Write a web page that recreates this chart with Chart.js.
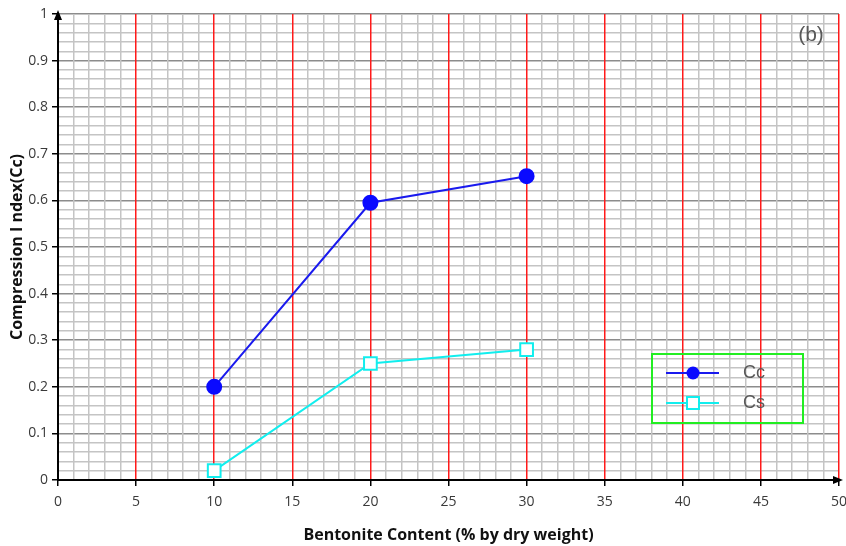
<!DOCTYPE html>
<html>
<head>
<meta charset="utf-8">
<script src="https://cdn.jsdelivr.net/npm/chart.js@4.4.0/dist/chart.umd.min.js"></script>
<style>
  html, body { margin: 0; padding: 0; background: #fff; }
  #wrap { width: 846px; height: 546px; }
</style>
</head>
<body>
<div id="wrap"><canvas id="chart" width="846" height="546"></canvas></div>
<script>
// bentonite content (% by dry weight)
const bentonite = [10, 20, 30];
// compression index
const ccValues = [0.2, 0.595, 0.652];
// swelling index
const csValues = [0.02, 0.25, 0.28];
const seriesNames = ['Cc', 'Cs'];
const panelLabel = '(b)';

const ctx = document.getElementById('chart').getContext('2d');

// draws arrows at the axis ends, the "(b)" label and the boxed legend
const extras = {
    id: 'extras',
    afterDraw(chart) {
        const c = chart.ctx;
        const a = chart.chartArea;
        c.save();
        c.fillStyle = '#000';
        // y arrow
        c.beginPath();
        c.moveTo(a.left, a.top - 4);
        c.lineTo(a.left - 4, a.top + 6);
        c.lineTo(a.left + 4, a.top + 6);
        c.closePath();
        c.fill();
        // x arrow
        c.beginPath();
        c.moveTo(a.right + 4, a.bottom);
        c.lineTo(a.right - 6, a.bottom - 4);
        c.lineTo(a.right - 6, a.bottom + 4);
        c.closePath();
        c.fill();

        // panel label
        c.fillStyle = '#595959';
        c.font = '21px "Liberation Sans", Arial, sans-serif';
        c.textAlign = 'center';
        c.textBaseline = 'middle';
        c.fillText(panelLabel, a.right - 28, a.top + 21);

        // legend box
        const bx = 652, by = 354, bw = 151, bh = 69;
        c.strokeStyle = '#22ee22';
        c.lineWidth = 2;
        c.strokeRect(bx, by, bw, bh);
        chart.data.datasets.forEach(function (ds, i) {
            const y = by + 19 + i * 30;
            c.strokeStyle = ds.borderColor;
            c.lineWidth = 2;
            c.beginPath();
            c.moveTo(bx + 14, y);
            c.lineTo(bx + 67, y);
            c.stroke();
            if (ds.pointStyle === 'rect') {
                c.fillStyle = '#fff';
                c.fillRect(bx + 35, y - 6, 12, 12);
                c.strokeRect(bx + 35, y - 6, 12, 12);
            } else {
                c.fillStyle = ds.pointBackgroundColor;
                c.beginPath();
                c.arc(bx + 41, y, 6.5, 0, Math.PI * 2);
                c.fill();
            }
            c.fillStyle = '#595959';
            c.font = '18px "Liberation Sans", Arial, sans-serif';
            c.textAlign = 'left';
            c.fillText(ds.label, bx + 91, y);
        });
        c.restore();
    }
};

function isMajorX(v) { return Math.round(v) % 5 === 0; }
function isMajorY(v) { return Math.round(v * 100) % 10 === 0; }

const chart = new Chart(ctx, {
    type: 'scatter',
    data: {
        datasets: [{
            label: seriesNames[0],
            data: bentonite.map((x, i) => ({ x: x, y: ccValues[i] })),
            showLine: true,
            borderColor: '#1a1aee',
            backgroundColor: '#1a1aee',
            pointBackgroundColor: '#0a0aff',
            pointBorderColor: '#0a0aff',
            pointStyle: 'circle',
            pointRadius: 7,
            borderWidth: 2
        }, {
            label: seriesNames[1],
            data: bentonite.map((x, i) => ({ x: x, y: csValues[i] })),
            showLine: true,
            borderColor: '#11eeee',
            backgroundColor: '#ffffff',
            pointBackgroundColor: '#ffffff',
            pointBorderColor: '#11eeee',
            pointStyle: 'rect',
            pointRadius: 9,
            pointBorderWidth: 2,
            borderWidth: 2
        }]
    },
    options: {
        responsive: false,
        animation: false,
        layout: { autoPadding: false, padding: { top: 14, right: 7, left: 0, bottom: 0 } },
        plugins: {
            legend: { display: false },
            tooltip: { enabled: false }
        },
        scales: {
            x: {
                type: 'linear',
                min: 0,
                max: 50,
                afterFit: function (s) { s.height = 66; s.paddingRight = 0; s.paddingLeft = 0; },
                border: { display: true, color: '#000', width: 2 },
                grid: {
                    z: -1,
                    color: function (c) {
                        if (c.tick.value === 0) return 'rgba(0,0,0,0)';
                        return isMajorX(c.tick.value) ? '#ff1a1a' : '#c4c4c4';
                    },
                    lineWidth: 1.5,
                    tickColor: function (c) { return isMajorX(c.tick.value) ? '#000' : 'rgba(0,0,0,0)'; },
                    tickLength: 6
                },
                ticks: {
                    stepSize: 1,
                    autoSkip: false,
                    maxRotation: 0,
                    padding: 8,
                    color: '#3a3a3a',
                    font: { family: '"Open Sans", sans-serif', size: 14 },
                    callback: function (v) { return isMajorX(v) ? String(Math.round(v)) : ''; }
                },
                title: {
                    display: true,
                    text: 'Bentonite Content (% by dry weight)',
                    color: '#111',
                    font: { family: '"Open Sans", sans-serif', size: 16, weight: 'bold' },
                    padding: { top: 0, bottom: 1 }
                }
            },
            y: {
                min: 0,
                max: 1,
                afterFit: function (s) { s.width = 58; },
                border: { display: true, color: '#000', width: 2 },
                grid: {
                    z: -2,
                    color: function (c) { return isMajorY(c.tick.value) ? '#8c8c8c' : '#c4c4c4'; },
                    lineWidth: 1.5,
                    tickColor: function (c) { return isMajorY(c.tick.value) ? '#000' : 'rgba(0,0,0,0)'; },
                    tickLength: 6
                },
                ticks: {
                    stepSize: 0.02,
                    autoSkip: false,
                    padding: 4,
                    color: '#3a3a3a',
                    font: { family: '"Open Sans", sans-serif', size: 14 },
                    callback: function (v) {
                        if (!isMajorY(v)) return '';
                        return String(Math.round(v * 10) / 10);
                    }
                },
                title: {
                    display: true,
                    text: 'Compression I ndex(Cc)',
                    color: '#111',
                    font: { family: '"Open Sans", sans-serif', size: 16, weight: 'bold' },
                    padding: { top: 8, bottom: 0 }
                }
            }
        }
    },
    plugins: [extras]
});
</script>
</body>
</html>
